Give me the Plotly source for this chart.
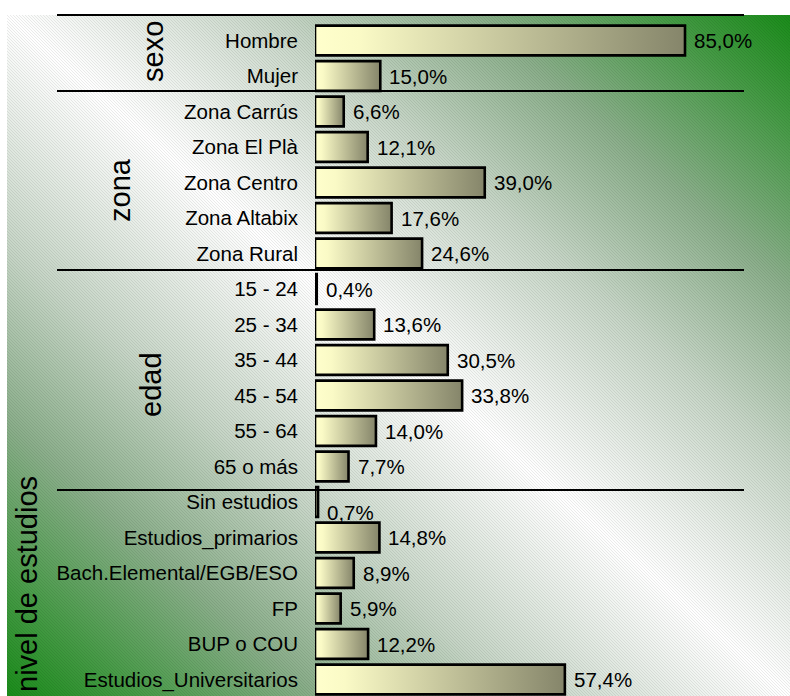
import base64
import plotly.graph_objects as go

# ---------------- data ----------------
groups = ["sexo", "zona", "edad", "nivel de estudios"]
group_sizes = [2, 5, 6, 6]
categories = [
    "Hombre", "Mujer",
    "Zona Carrús", "Zona El Plà", "Zona Centro", "Zona Altabix", "Zona Rural",
    "15 - 24", "25 - 34", "35 - 44", "45 - 54", "55 - 64", "65 o más",
    "Sin estudios", "Estudios_primarios", "Bach.Elemental/EGB/ESO", "FP",
    "BUP o COU", "Estudios_Universitarios",
]
values = [85.0, 15.0,
          6.6, 12.1, 39.0, 17.6, 24.6,
          0.4, 13.6, 30.5, 33.8, 14.0, 7.7,
          0.7, 14.8, 8.9, 5.9, 12.2, 57.4]

# ---------------- layout geometry (pixels) ----------------
W, H = 790, 696
PL, PR, PT, PB = 315, 744, 15, 696          # plot area
FONT = "Liberation Sans, Arial, sans-serif"


def xp(px):
    return (px - PL) / (PR - PL)


def yp(py):
    return (PB - py) / (PB - PT)


row0, step = 40.5, 35.5
y_top = (PT - row0) / step
y_bot = (PB - row0) / step

fig = go.Figure()

half = 0.42
for i, v in enumerate(values):
    fig.add_trace(go.Scatter(
        x=[0, v, v, 0, 0],
        y=[i - half, i - half, i + half, i + half, i - half],
        mode="lines",
        fill="toself",
        fillgradient=dict(type="horizontal",
                          colorscale=[[0, "#FFFFCC"], [0.12, "#FAFAC6"], [1, "#85856A"]]),
        line=dict(color="black", width=2.6),
        hoverinfo="skip",
        showlegend=False,
    ))

annotations = []
for i, v in enumerate(values):
    txt = f"{v:.1f}".replace(".", ",") + "%"
    annotations.append(dict(
        x=v, y=i, xref="x", yref="y", text=txt, showarrow=False,
        xanchor="left", yanchor="middle", xshift=7,
        yshift=-10 if categories[i] == "Sin estudios" else 0,
        font=dict(family=FONT, size=20.5, color="black"),
    ))

# group labels (rotated)
group_pos = [(153, 52), (120, 190), (151, 385), (27, 584)]
for g, (gx, gy) in zip(groups, group_pos):
    annotations.append(dict(
        x=xp(gx), y=yp(gy), xref="paper", yref="paper", text=g,
        showarrow=False, textangle=-90, xanchor="center", yanchor="middle",
        font=dict(family=FONT, size=29, color="black"),
    ))

# separator lines
shapes = []
for ly in [15, 91, 270, 490]:
    shapes.append(dict(type="line", xref="paper", yref="paper",
                       x0=xp(57), x1=xp(744), y0=yp(ly), y1=yp(ly),
                       line=dict(color="black", width=2)))

# background: diagonal green-white-green gradient with fine hatch
bw, bh = 783, 681
svg = f"""<svg xmlns='http://www.w3.org/2000/svg' width='{bw}' height='{bh}' viewBox='0 0 {bw} {bh}' preserveAspectRatio='none'>
<defs>
<linearGradient id='g' x1='1' y1='0' x2='0' y2='1'>
<stop offset='0' stop-color='#1a8c1a'/>
<stop offset='0.08' stop-color='#449a44'/>
<stop offset='0.2' stop-color='#8aae8a'/>
<stop offset='0.33' stop-color='#c6d5c6'/>
<stop offset='0.45' stop-color='#eff3ef'/>
<stop offset='0.5' stop-color='#ffffff'/>
<stop offset='0.55' stop-color='#eff3ef'/>
<stop offset='0.67' stop-color='#c6d5c6'/>
<stop offset='0.8' stop-color='#8aae8a'/>
<stop offset='0.92' stop-color='#449a44'/>
<stop offset='1' stop-color='#1a8c1a'/>
</linearGradient>
<pattern id='p' width='3' height='3' patternUnits='userSpaceOnUse'>
<path d='M-1,2 l2,2 M0,0 l3,3 M2,-1 l2,2' stroke='rgba(0,0,0,0.10)' stroke-width='0.8'/>
</pattern>
</defs>
<rect width='{bw}' height='{bh}' fill='url(#g)'/>
<rect width='{bw}' height='{bh}' fill='url(#p)'/>
</svg>"""
src = "data:image/svg+xml;base64," + base64.b64encode(svg.encode("utf-8")).decode("ascii")

fig.update_layout(
    width=W, height=H,
    margin=dict(l=PL, r=W - PR, t=PT, b=H - PB, pad=0),
    paper_bgcolor="white",
    plot_bgcolor="rgba(0,0,0,0)",
    font=dict(family=FONT, color="black"),
    xaxis=dict(range=[0, (PR - PL) / ((685 - PL) / 85.0)], visible=False, fixedrange=True),
    yaxis=dict(range=[y_bot, y_top], tickvals=list(range(len(categories))),
               ticktext=categories, showgrid=False, zeroline=False, showline=False,
               ticks="", ticklabelstandoff=16, automargin=False,
               tickfont=dict(family=FONT, size=20.5, color="black")),
    annotations=annotations,
    shapes=shapes,
    images=[dict(source=src, xref="paper", yref="paper",
                 x=xp(7), y=yp(15), sizex=(790 - 7) / (PR - PL), sizey=1.0,
                 xanchor="left", yanchor="top", sizing="stretch", layer="below")],
)

fig.write_html(
    "out.html",
    config={"displayModeBar": False},
    post_script="document.body.style.margin='0';document.body.style.overflow='hidden';",
)
